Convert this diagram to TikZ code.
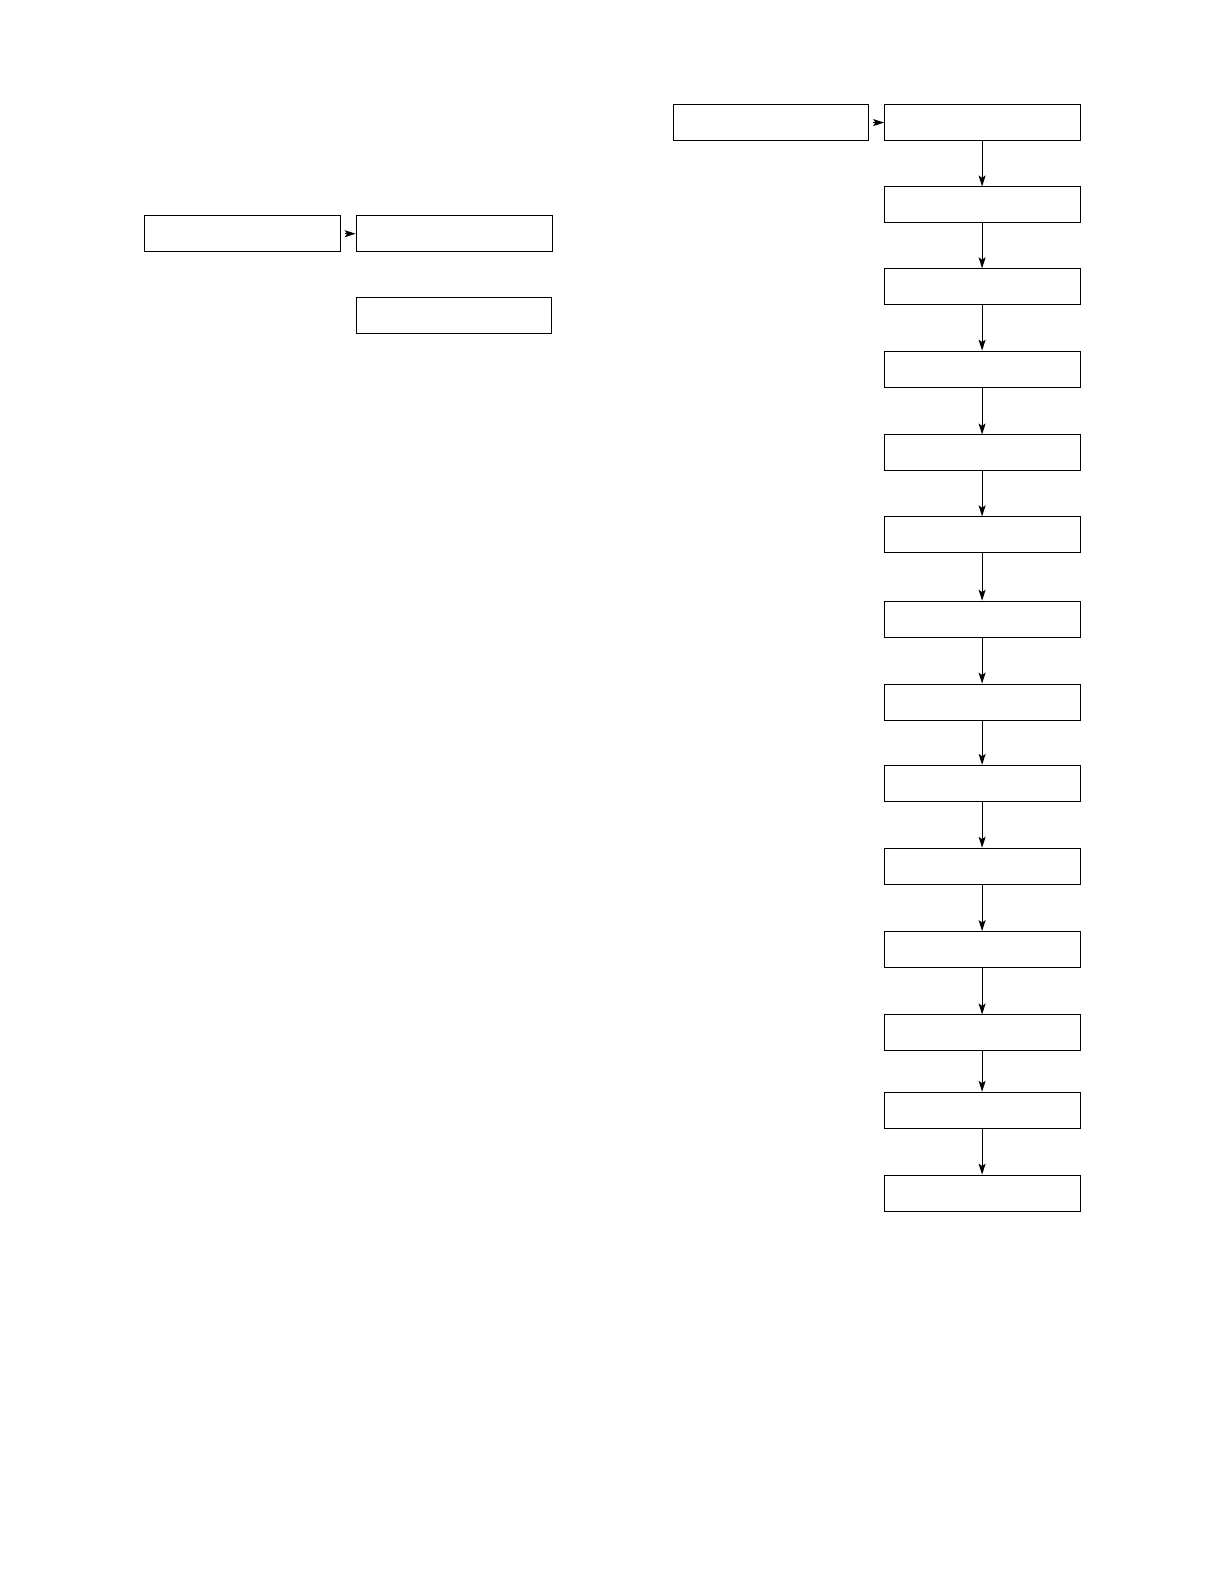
\documentclass[tikz,border=0pt]{standalone}
\usetikzlibrary{arrows.meta}
\begin{document}
\begin{tikzpicture}[x=1.0104pt,y=-1.0104pt,
  box/.style={draw,line width=1pt,minimum width=196pt,minimum height=36pt,inner sep=0pt,anchor=north west},
  arr/.style={line width=1pt,-{Stealth[length=11pt,width=7pt,inset=2.5pt]}},
  harr/.style={line width=1pt,-{Stealth[length=11pt,width=7pt,inset=2.5pt]},shorten <=4pt}]
\useasboundingbox (0,0) rectangle (1211.4,1567.7);
\node[box] (a) at (143,213) {};
\node[box] (b) at (352,213) {};
\node[box,minimum width=195pt] (c) at (352,293.5) {};
\node[box,minimum width=195pt] (d) at (666,103) {};
\node[box] (e0) at (875,103) {};
\foreach \i/\y in {1/184.5,2/265.5,3/347,4/430,5/511,6/594.5,7/676.5,8/757,9/839,10/921.5,11/1004,12/1080.5,13/1162.5}{
  \node[box] (e\i) at (875,\y) {};
}
\draw[harr] (a.east) -- (b.west);
\draw[harr] (d.east) -- (e0.west);
\foreach \i [evaluate=\i as \j using int(\i+1)] in {0,...,12}{
  \draw[arr] ([xshift=-0.5pt]e\i.south) -- ([xshift=-0.5pt]e\j.north);
}
\end{tikzpicture}
\end{document}
